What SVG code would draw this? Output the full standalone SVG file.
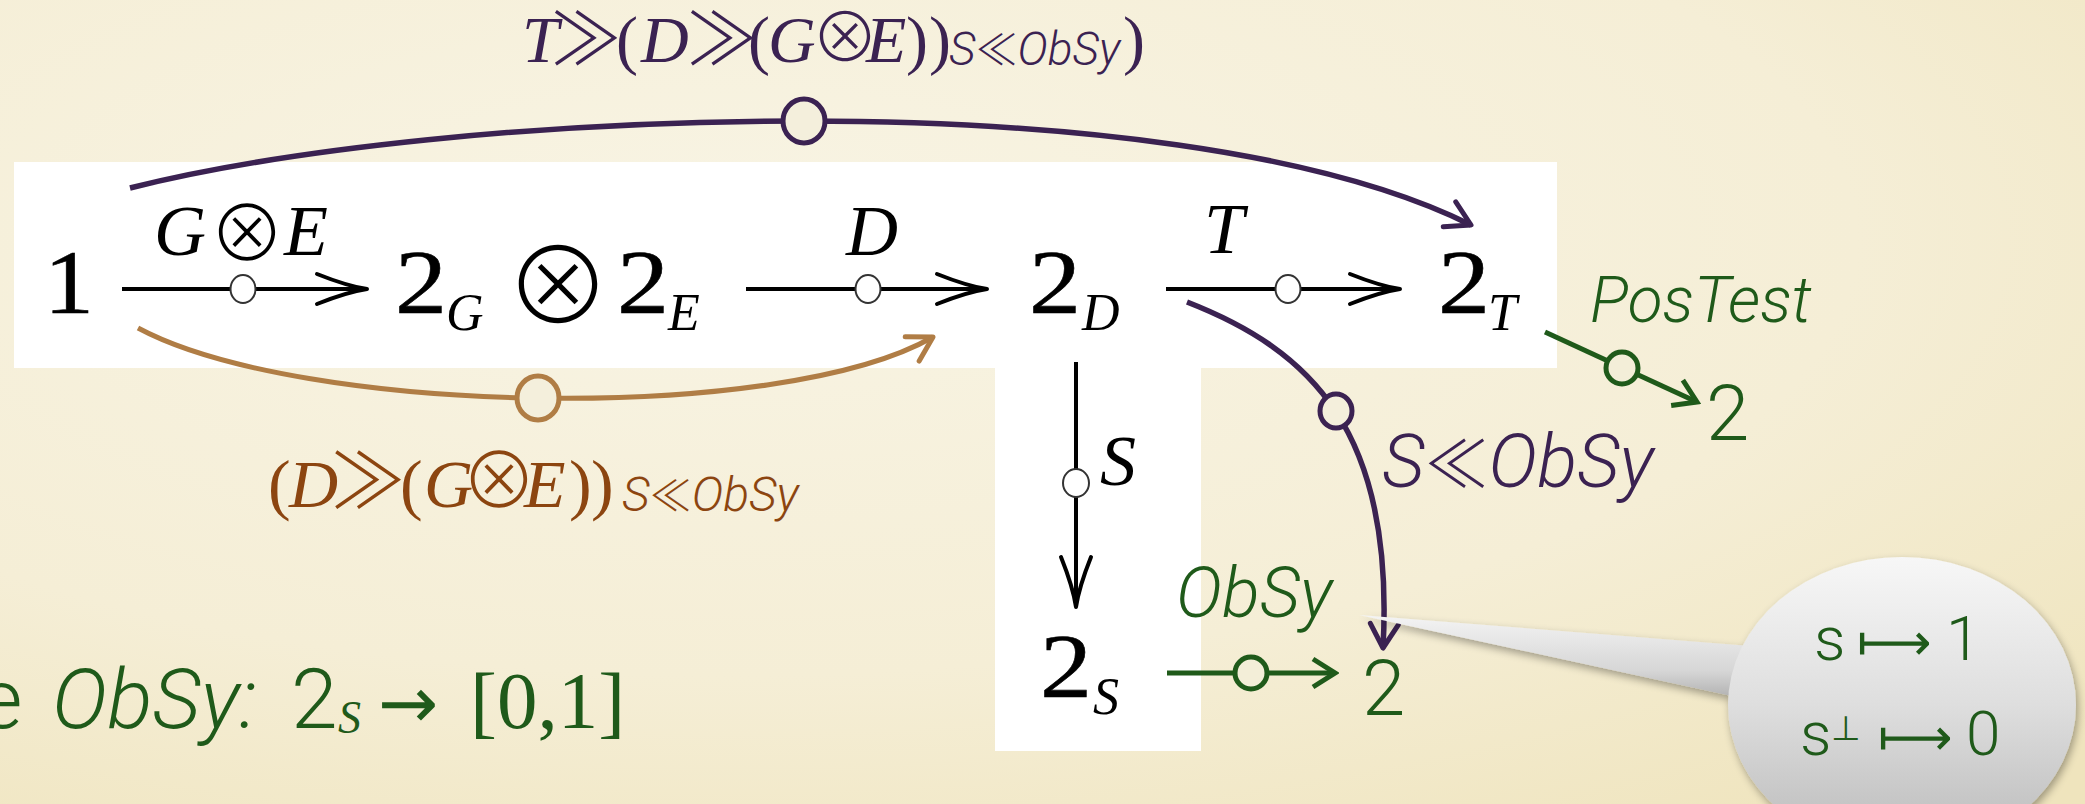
<svg xmlns="http://www.w3.org/2000/svg" width="2085" height="804" viewBox="0 0 2085 804">
<defs>
  <radialGradient id="bg" cx="0.35" cy="0.3" r="0.9">
    <stop offset="0" stop-color="#f8f4e4"/>
    <stop offset="0.6" stop-color="#f5eed6"/>
    <stop offset="1" stop-color="#efe4bd"/>
  </radialGradient>
  <linearGradient id="bubbleG" x1="0" y1="0" x2="0" y2="1">
    <stop offset="0" stop-color="#f7f7f7"/>
    <stop offset="0.5" stop-color="#dedede"/>
    <stop offset="1" stop-color="#b9b9b9"/>
  </linearGradient>
  <linearGradient id="tailG" gradientUnits="userSpaceOnUse" x1="0" y1="615" x2="0" y2="695">
    <stop offset="0" stop-color="#f4f4f4"/>
    <stop offset="0.7" stop-color="#d6d6d6"/>
    <stop offset="1" stop-color="#b5b5b5"/>
  </linearGradient>
  <filter id="shadow" x="-20%" y="-20%" width="140%" height="140%">
    <feGaussianBlur in="SourceAlpha" stdDeviation="4"/>
    <feOffset dx="2" dy="4" result="b"/>
    <feComponentTransfer><feFuncA type="linear" slope="0.35"/></feComponentTransfer>
    <feMerge><feMergeNode/><feMergeNode in="SourceGraphic"/></feMerge>
  </filter>
  <marker id="mBlack" markerUnits="userSpaceOnUse" viewBox="-56 -20 60 40" markerWidth="60" markerHeight="40" refX="0" refY="0" orient="auto">
    <path d="M-50,-15 Q-20,-3 0,0 Q-20,3 -50,15" fill="none" stroke="#000" stroke-width="4" stroke-linecap="round" stroke-linejoin="round"/>
  </marker>
  <marker id="mPurple" markerUnits="userSpaceOnUse" viewBox="-30 -18 34 36" markerWidth="34" markerHeight="36" refX="0" refY="0" orient="auto">
    <path d="M-24,-14 L0,0 L-24,14" fill="none" stroke="#3b2252" stroke-width="5" stroke-linecap="round" stroke-linejoin="round"/>
  </marker>
  <marker id="mBrown" markerUnits="userSpaceOnUse" viewBox="-30 -18 34 36" markerWidth="34" markerHeight="36" refX="0" refY="0" orient="auto">
    <path d="M-24,-14 L0,0 L-24,14" fill="none" stroke="#b07d45" stroke-width="5" stroke-linecap="round" stroke-linejoin="round"/>
  </marker>
  <marker id="mGreen" markerUnits="userSpaceOnUse" viewBox="-30 -18 34 36" markerWidth="34" markerHeight="36" refX="0" refY="0" orient="auto">
    <path d="M-22,-14 L0,0 L-22,14" fill="none" stroke="#1f5a1a" stroke-width="5" stroke-linecap="butt" stroke-linejoin="miter"/>
  </marker>
</defs>
<style>
  .serif { font-family: "Liberation Serif", "DejaVu Serif", serif; }
  .sans { font-family: Roboto, "Liberation Sans", Arimo, sans-serif; font-weight: 300; }
  .sym { font-family: "Noto Sans CJK JP", "DejaVu Sans", sans-serif; font-style: normal; font-weight: 300; }
  .arr { font-family: "DejaVu Sans", sans-serif; font-style: normal; }
  .it { font-style: italic; }
  .main { font-size: 92px; fill: #000; stroke: #000; stroke-width: 0.6; }
  .sub { font-size: 52px; font-style: italic; }
  .elab { font-size: 72px; font-style: italic; fill: #000; }
  .pu { fill: #3b2252; }
  .br { fill: #8c4510; }
  .gr { fill: #1f5a1a; }
  .blk { fill: none; stroke: #000; stroke-width: 4; }
  .cm { fill: #fff; stroke: #333; stroke-width: 2; }
  .puL { fill: none; stroke: #3b2252; stroke-width: 5.5; }
  .brL { fill: none; stroke: #b07d45; stroke-width: 5; }
  .grL { fill: none; stroke: #1f5a1a; stroke-width: 5; }
  .puC { fill: #f4efdc; stroke: #3b2252; stroke-width: 5; }
  .brC { fill: #f4efdc; stroke: #b07d45; stroke-width: 5; }
  .grC { fill: #f3eed8; stroke: #1f5a1a; stroke-width: 5; }
</style>

<rect x="0" y="0" width="2085" height="804" fill="url(#bg)"/>

<!-- white panels -->
<g id="panels" fill="#fff">
  <rect x="14" y="162" width="1543" height="206"/>
  <rect x="995" y="367" width="206" height="384"/>
</g>

<!-- connectors -->
<g id="connectors">
  <line class="blk" x1="122" y1="289" x2="367" y2="289" marker-end="url(#mBlack)"/>
  <ellipse class="cm" cx="243" cy="289" rx="12.5" ry="14"/>
  <line class="blk" x1="746" y1="289" x2="987" y2="289" marker-end="url(#mBlack)"/>
  <ellipse class="cm" cx="868" cy="289" rx="12.5" ry="14"/>
  <line class="blk" x1="1166" y1="289" x2="1400" y2="289" marker-end="url(#mBlack)"/>
  <ellipse class="cm" cx="1288" cy="289" rx="12.5" ry="14"/>
  <line class="blk" x1="1076" y1="362" x2="1076" y2="607" marker-end="url(#mBlack)"/>
  <ellipse class="cm" cx="1076" cy="483" rx="13" ry="14"/>

  <path class="puL" d="M130,188 C440,110 1170,75 1471,225" marker-end="url(#mPurple)"/>
  <ellipse class="puC" cx="804" cy="121" rx="21" ry="22"/>

  <path class="brL" d="M138,328 C300,415 780,425 933,337" marker-end="url(#mBrown)"/>
  <ellipse class="brC" cx="538" cy="398" rx="21" ry="22"/>

  <path class="puL" d="M1187,302 C1310,350 1395,430 1383,648" stroke-width="4.5" marker-end="url(#mPurple)"/>
  <ellipse class="puC" cx="1336" cy="411" rx="16" ry="17" stroke-width="4.5"/>

  <line class="grL" x1="1545" y1="332" x2="1697" y2="402" marker-end="url(#mGreen)"/>
  <circle class="grC" cx="1622" cy="368" r="16"/>

  <line class="grL" x1="1167" y1="673" x2="1335" y2="673" marker-end="url(#mGreen)"/>
  <circle class="grC" cx="1251" cy="673" r="16"/>
</g>

<!-- nodes -->
<g id="node-1"><text class="serif main" x="44" y="313" textLength="50" lengthAdjust="spacingAndGlyphs">1</text></g>
<g id="node-2G-2E">
  <text class="serif main" x="395" y="313" textLength="52" lengthAdjust="spacingAndGlyphs">2</text>
  <text class="serif sub" x="446" y="330">G</text>
  <text class="sym" x="558" y="324" font-size="106" text-anchor="middle">⊗</text>
  <text class="serif main" x="617" y="313" textLength="52" lengthAdjust="spacingAndGlyphs">2</text>
  <text class="serif sub" x="668" y="330">E</text>
</g>
<g id="node-2D">
  <text class="serif main" x="1029" y="313" textLength="52" lengthAdjust="spacingAndGlyphs">2</text>
  <text class="serif sub" x="1082" y="330">D</text>
</g>
<g id="node-2T">
  <text class="serif main" x="1438" y="313" textLength="52" lengthAdjust="spacingAndGlyphs">2</text>
  <text class="serif sub" x="1488" y="330">T</text>
</g>
<g id="node-2S">
  <text class="serif main" x="1040" y="697" textLength="52" lengthAdjust="spacingAndGlyphs">2</text>
  <text class="serif sub" x="1093" y="714">S</text>
</g>
<g id="node-2-pos"><text class="sans gr" x="1706" y="440" font-size="78">2</text></g>
<g id="node-2-obs"><text class="sans gr" x="1362" y="715" font-size="78">2</text></g>

<!-- edge labels -->
<g id="labels">
  <text class="serif elab" x="154" y="255">G</text>
  <text class="sym" x="247" y="261" font-size="76" text-anchor="middle">⊗</text>
  <text class="serif elab" x="284" y="255">E</text>
  <text class="serif elab" x="846" y="255">D</text>
  <text class="serif elab" x="1204" y="253">T</text>
  <text class="serif elab" x="1100" y="485" font-size="84">S</text>

  <g id="label-top" class="pu">
    <text class="serif it" font-size="66" x="522" y="62">T</text>
    <text class="sym" font-size="72" x="586" y="64" text-anchor="middle">≫</text>
    <text class="serif" font-size="66" x="616" y="62">(</text>
    <text class="serif it" font-size="66" x="641" y="62">D</text>
    <text class="sym" font-size="72" x="722" y="64" text-anchor="middle">≫</text>
    <text class="serif" font-size="66" x="748" y="62">(</text>
    <text class="serif it" font-size="66" x="768" y="62">G</text>
    <text class="sym" font-size="68" x="845" y="62" text-anchor="middle">⊗</text>
    <text class="serif it" font-size="66" x="866" y="62">E</text>
    <text class="serif" font-size="66" x="906" y="62">)</text>
    <text class="serif" font-size="66" x="929" y="62">)</text>
    <text class="sans it" font-size="46" x="949" y="65">S<tspan class="sym" font-size="42">≪</tspan>ObSy</text>
    <text class="serif" font-size="66" x="1123" y="62">)</text>
  </g>

  <g id="label-brown" class="br">
    <text class="serif" font-size="68" x="268" y="507">(</text>
    <text class="serif it" font-size="68" x="289" y="507">D</text>
    <text class="sym" font-size="76" x="368" y="508" text-anchor="middle">≫</text>
    <text class="serif" font-size="68" x="400" y="507">(</text>
    <text class="serif it" font-size="68" x="424" y="507">G</text>
    <text class="sym" font-size="76" x="499" y="508" text-anchor="middle">⊗</text>
    <text class="serif it" font-size="68" x="524" y="507">E</text>
    <text class="serif" font-size="68" x="569" y="507">)</text>
    <text class="serif" font-size="68" x="591" y="507">)</text>
    <text class="sans it" font-size="48" x="622" y="511">S<tspan class="sym" font-size="42">≪</tspan>ObSy</text>
  </g>

  <text class="sans pu it" font-size="74" x="1382" y="487">S<tspan class="sym" font-size="64">≪</tspan>ObSy</text>
  <text class="sans gr it" font-size="64" x="1590" y="322">PosTest</text>
  <text class="sans gr it" font-size="70" x="1176" y="617">ObSy</text>
</g>

<!-- bottom-left caption -->
<g id="caption" class="gr">
  <text class="sans" font-size="84" y="728"><tspan x="-21">e</tspan><tspan x="52" class="it">ObSy:</tspan><tspan x="291">2</tspan></text>
  <text class="serif it" font-size="46" x="338" y="733">S</text>
  <text class="arr" font-size="72" x="378" y="728">→</text>
  <text class="serif" font-size="81" x="470" y="728">[0,1]</text>
</g>

<!-- callout -->
<g id="callout" filter="url(#shadow)">
  <polygon points="1359,615 1750,646 1736,697" fill="url(#tailG)"/>
  <ellipse cx="1902" cy="705" rx="174" ry="148" fill="url(#bubbleG)"/>
</g>
<g id="callout-text" class="gr">
  <text class="sans" font-size="62" y="660"><tspan x="1814">s</tspan><tspan class="arr" x="1857" font-size="52">⟼</tspan><tspan x="1946">1</tspan></text>
  <text class="sans" font-size="62" y="755"><tspan x="1800">s</tspan><tspan class="arr" x="1831" y="740" font-size="34">⊥</tspan><tspan class="arr" x="1878" y="755" font-size="52">⟼</tspan><tspan x="1966" y="755">0</tspan></text>
</g>
</svg>
